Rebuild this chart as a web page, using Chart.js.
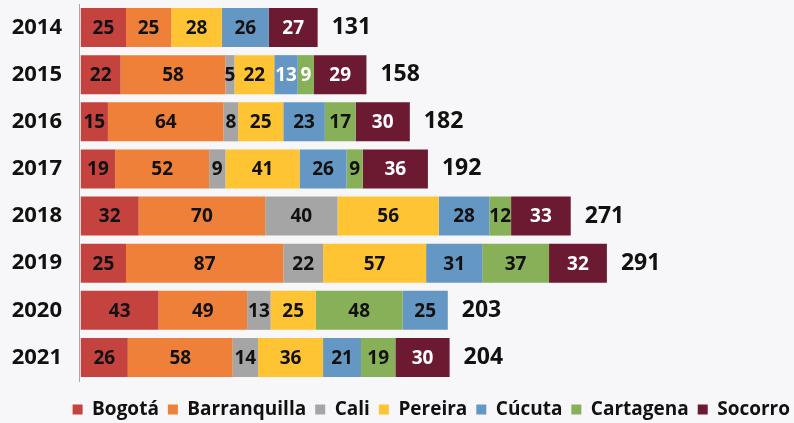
<!DOCTYPE html>
<html lang="es">
<head>
<meta charset="utf-8">
<script src="https://cdn.jsdelivr.net/npm/chart.js@4"></script>
<style>
  html, body { margin: 0; padding: 0; background: #F7F7F9; }
  #wrap { width: 794px; height: 423px; position: relative; }
</style>
</head>
<body>
<div id="wrap"><canvas id="chart"></canvas></div>
<script>
// Años y ciudades
const years = ['2014', '2015', '2016', '2017', '2018', '2019', '2020', '2021'];

const bogota       = [25, 22, 15, 19, 32, 25, 43, 26];
const barranquilla = [25, 58, 64, 52, 70, 87, 49, 58];
const cali         = [0, 5, 8, 9, 40, 22, 13, 14];
const pereira      = [28, 22, 25, 41, 56, 57, 25, 36];
const cucuta       = [26, 13, 23, 26, 28, 31, 0, 21];
const cartagena    = [0, 9, 17, 9, 12, 37, 48, 19];
// en 2020 el tramo de Cúcuta va después de Cartagena
const cucutaTail   = [0, 0, 0, 0, 0, 0, 25, 0];
const socorro      = [27, 29, 30, 36, 33, 32, 0, 30];

const FONT = "'Open Sans', 'Noto Sans', sans-serif";

const series = [
    { label: 'Bogotá', data: bogota, color: '#C4433F' },
    { label: 'Barranquilla', data: barranquilla, color: '#EE8039' },
    { label: 'Cali', data: cali, color: '#A5A5A5' },
    { label: 'Pereira', data: pereira, color: '#FFC434' },
    { label: 'Cúcuta', data: cucuta, color: '#6597C4' },
    { label: 'Cartagena', data: cartagena, color: '#88B059' },
    { label: 'Cúcuta ', data: cucutaTail, color: '#6597C4', hideLegend: true },
    { label: 'Socorro', data: socorro, color: '#6B1A32' }
];

// etiquetas blancas en los tramos oscuros / estrechos
function labelColor(dsLabel, year) {
    if (dsLabel === 'Socorro') return '#FFFFFF';
    if (year === '2015' && (dsLabel === 'Cúcuta' || dsLabel === 'Cartagena')) return '#FFFFFF';
    return '#111111';
}

const barLabels = {
    id: 'barLabels',
    afterLayout(chart) {
        // bajar y desplazar un poco la leyenda
        const lg = chart.legend;
        lg.top += 10; lg.bottom += 10;
        lg.left += 5; lg.right += 5;
    },
    afterDatasetsDraw(chart) {
        const ctx = chart.ctx;
        const xScale = chart.scales.x;
        ctx.save();
        ctx.textBaseline = 'middle';

        // valores dentro de cada tramo
        ctx.textAlign = 'center';
        ctx.font = `bold 19px ${FONT}`;
        chart.data.datasets.forEach((ds, i) => {
            const meta = chart.getDatasetMeta(i);
            meta.data.forEach((bar, j) => {
                const v = ds.data[j];
                if (!v) return;
                const cx = (bar.x + bar.base) / 2;
                ctx.fillStyle = labelColor(ds.label.trim(), years[j]);
                ctx.fillText(String(v), cx, bar.y + 1);
            });
        });

        // total al final de cada barra
        ctx.textAlign = 'left';
        ctx.font = `bold 23px ${FONT}`;
        ctx.fillStyle = '#111111';
        years.forEach((y, j) => {
            const total = chart.data.datasets.reduce((s, ds) => s + (ds.data[j] || 0), 0);
            const bar = chart.getDatasetMeta(0).data[j];
            ctx.fillText(String(total), xScale.getPixelForValue(total) + 14, bar.y);
        });
        ctx.restore();
    }
};

new Chart(document.getElementById('chart'), {
    type: 'bar',
    data: {
        labels: years,
        datasets: series.map(s => ({
            label: s.label,
            data: s.data,
            backgroundColor: s.color,
            borderWidth: 0,
            hideLegend: !!s.hideLegend,
            categoryPercentage: 1,
            barPercentage: 0.83
        }))
    },
    options: {
        indexAxis: 'y',
        responsive: true,
        maintainAspectRatio: false,
        animation: false,
        layout: { padding: { top: 4, left: 0, right: 0, bottom: 4 } },
        scales: {
            x: {
                stacked: true,
                display: false,
                min: -1,
                max: 394.5
            },
            y: {
                stacked: true,
                grid: { display: false },
                border: { display: true, color: '#A8A8A8', width: 1 },
                ticks: {
                    color: '#111111',
                    padding: 9,
                    font: { family: FONT, size: 22, weight: 'bold' }
                },
                afterFit(scale) {
                    scale.width = 79;
                    scale.paddingTop = 0;
                    scale.paddingBottom = 0;
                }
            }
        },
        plugins: {
            tooltip: { enabled: false },
            legend: {
                position: 'bottom',
                align: 'end',
                labels: {
                    boxWidth: 10,
                    boxHeight: 10,
                    padding: 9,
                    color: '#111111',
                    font: { family: FONT, size: 19, weight: 'bold' },
                    filter: (item, data) => !data.datasets[item.datasetIndex].hideLegend
                }
            }
        }
    },
    plugins: [barLabels]
});
</script>
</body>
</html>
